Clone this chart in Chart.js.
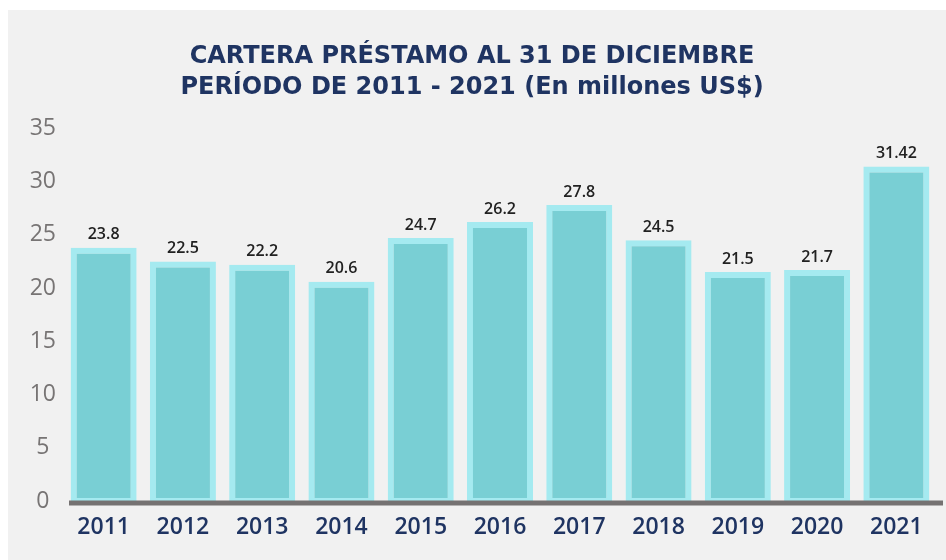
<!DOCTYPE html>
<html>
<head>
<meta charset="utf-8">
<script src="https://cdn.jsdelivr.net/npm/chart.js@4.4.0/dist/chart.umd.min.js"></script>
<style>
  html, body { margin: 0; padding: 0; background: #ffffff; }
  #panel {
    position: absolute; left: 8px; top: 10px;
    width: 938px; height: 550px; background: #f1f1f1;
  }
</style>
</head>
<body>
<div id="panel"><canvas id="chart" width="938" height="550"></canvas></div>
<script>
// --- Data ---
const years = ["2011", "2012", "2013", "2014", "2015", "2016", "2017", "2018", "2019", "2020", "2021"];
const cartera = [23.8, 22.5, 22.2, 20.6, 24.7, 26.2, 27.8, 24.5, 21.5, 21.7, 31.42];
const valueLabels = ["23.8", "22.5", "22.2", "20.6", "24.7", "26.2", "27.8", "24.5", "21.5", "21.7", "31.42"];
const titleLines = ["CARTERA PRÉSTAMO AL 31 DE DICIEMBRE", "PERÍODO DE 2011 - 2021 (En millones US$)"];

const FONT = "'Open Sans', sans-serif";

// draws the thick base line and the numbers above each bar
const extrasPlugin = {
    id: "extras",
    afterDatasetsDraw(chart) {
        const ctx = chart.ctx;
        const area = chart.chartArea;
        const y0 = chart.scales.y.getPixelForValue(0);

        ctx.save();
        ctx.strokeStyle = "#757272";
        ctx.lineWidth = 5;
        ctx.beginPath();
        ctx.moveTo(area.left + 5, y0 + 2);
        ctx.lineTo(area.right + 7, y0 + 2);
        ctx.stroke();

        ctx.fillStyle = "#222222";
        ctx.font = "600 16px " + FONT;
        ctx.textAlign = "center";
        ctx.textBaseline = "middle";
        chart.getDatasetMeta(0).data.forEach((bar, i) => {
            ctx.fillText(valueLabels[i], bar.x, bar.y - 13);
        });
        ctx.restore();
    }
};

new Chart(document.getElementById("chart"), {
    type: "bar",
    data: {
        labels: years,
        datasets: [{
            data: cartera,
            backgroundColor: "#79cfd4",
            borderColor: "#a5eaf0",
            borderWidth: { top: 6, left: 6, right: 6, bottom: 3 },
            borderSkipped: false,
            barPercentage: 0.833,
            categoryPercentage: 1.0
        }]
    },
    options: {
        responsive: false,
        animation: false,
        layout: { padding: { left: 0, right: 10, top: 0, bottom: 0 } },
        plugins: {
            legend: { display: false },
            tooltip: { enabled: false },
            title: {
                display: true,
                text: titleLines,
                color: "#1f3462",
                font: { family: "'DejaVu Sans', sans-serif", size: 24, weight: "bold", lineHeight: 1.3 },
                padding: { top: 31, bottom: 25 }
            }
        },
        scales: {
            x: {
                grid: { display: false, drawTicks: false },
                border: { display: false },
                ticks: {
                    color: "#1f3462",
                    font: { family: FONT, size: 23, weight: "600" },
                    padding: 13,
                    maxRotation: 0
                },
                afterFit(scale) { scale.height = 59; }
            },
            y: {
                min: 0,
                max: 35,
                grid: { display: false, drawTicks: false },
                border: { display: false },
                ticks: {
                    stepSize: 5,
                    color: "#777474",
                    font: { family: FONT, size: 23 },
                    crossAlign: "center",
                    padding: 8
                },
                afterFit(scale) { scale.width = 56; }
            }
        }
    },
    plugins: [extrasPlugin]
});
</script>
</body>
</html>
